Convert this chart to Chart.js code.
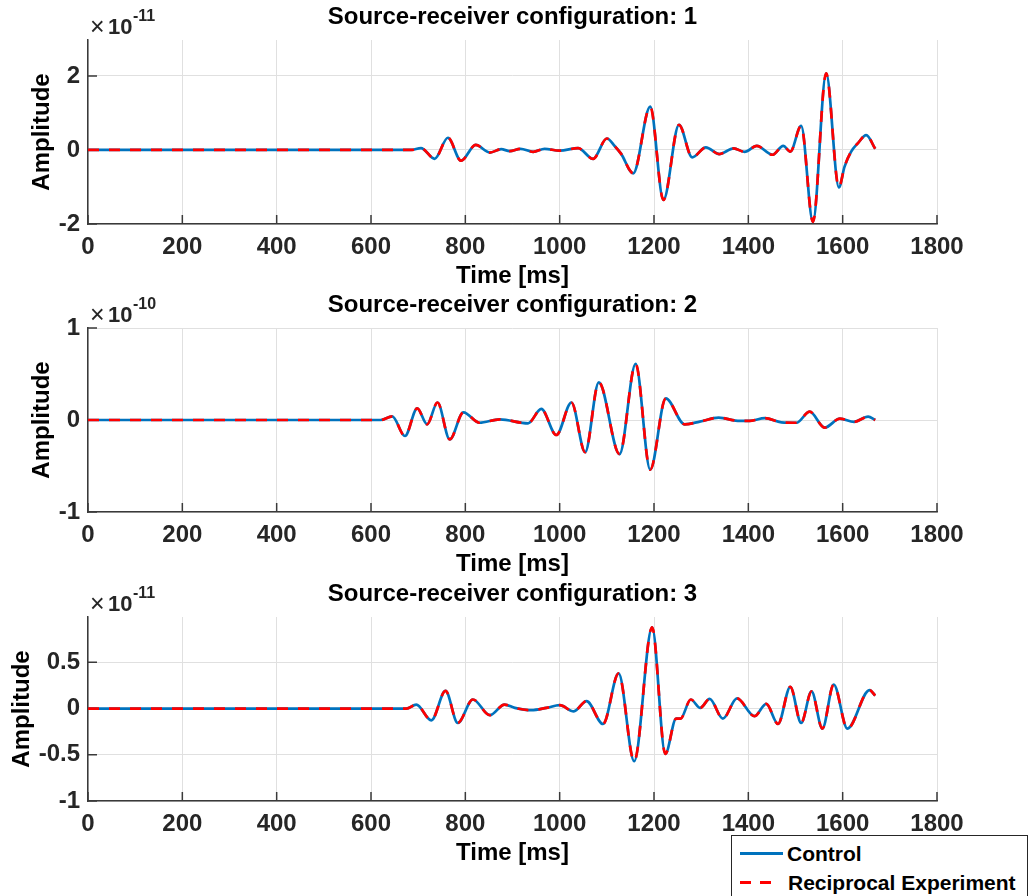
<!DOCTYPE html>
<html><head><meta charset="utf-8">
<script src="https://cdn.jsdelivr.net/npm/chart.js@4.4.1/dist/chart.umd.min.js"></script>
<style>
html,body{margin:0;padding:0;background:#fff;}
body{width:1034px;height:896px;position:relative;overflow:hidden;font-family:'Liberation Sans',Arial,sans-serif;}
canvas{position:absolute;left:0;}
#legend{position:absolute;left:731px;top:835px;width:295px;height:70px;border:1px solid #262626;background:#fff;}
#legend .txt{position:absolute;font-weight:bold;font-size:21px;line-height:24px;color:#000;white-space:nowrap;}
#legend .s1{position:absolute;left:8px;top:16px;width:43px;height:3px;background:#0072BD;}
#legend .s2{position:absolute;left:8px;top:45px;width:31px;height:3px;background:repeating-linear-gradient(to right,#FF0000 0 11px,transparent 11px 20px);}
</style>
</head>
<body>
<canvas id="c1" width="1034" height="288" style="top:0px"></canvas>
<canvas id="c2" width="1034" height="288" style="top:288px"></canvas>
<canvas id="c3" width="1034" height="288" style="top:577px"></canvas>
<div id="legend">
  <div class="s1"></div><div class="txt" style="left:55px;top:6px">Control</div>
  <div class="s2"></div><div class="txt" style="left:56px;top:35px">Reciprocal Experiment</div>
</div>
<script>
// ---------- data ----------
const xTicks = [0, 200, 400, 600, 800, 1000, 1200, 1400, 1600, 1800];
const xLabels = ['0', '200', '400', '600', '800', '1000', '1200', '1400', '1600', '1800'];

// configuration 1 (x 1e-11)
const time1 = [0, 685, 706, 735, 763, 791, 822, 852, 876, 894, 917, 944, 968, 1000, 1039, 1071, 1100, 1117, 1130, 1156, 1192, 1220, 1253, 1281, 1310, 1338, 1369, 1392, 1418, 1451, 1474, 1489, 1512, 1537, 1565, 1592, 1604, 1618, 1632, 1650, 1669];
const control1 = [0, 0, 0.05, -0.24, 0.33, -0.29, 0.135, -0.07, 0.02, -0.03, 0.03, -0.05, 0.03, -0.02, 0.05, -0.24, 0.31, 0.1, -0.1, -0.63, 1.17, -1.35, 0.68, -0.2, 0.07, -0.11, 0.04, -0.05, 0.11, -0.13, 0.11, -0.045, 0.65, -1.94, 2.07, -1.01, -0.45, -0.045, 0.18, 0.4, 0.03];
const reciprocal1 = [0, 0, 0.05, -0.24, 0.33, -0.29, 0.135, -0.07, 0.02, -0.03, 0.03, -0.05, 0.03, -0.02, 0.05, -0.24, 0.31, 0.1, -0.1, -0.63, 1.17, -1.35, 0.68, -0.2, 0.07, -0.11, 0.04, -0.05, 0.11, -0.13, 0.11, -0.045, 0.65, -1.94, 2.07, -1.01, -0.45, -0.045, 0.18, 0.4, 0.03];
const yTicks1 = [-2, 0, 2];
const yLabels1 = ['-2', '0', '2'];

// configuration 2 (x 1e-10)
const time2 = [0, 620, 645, 672, 698, 719, 741, 767, 796, 830, 873, 933, 961, 993, 1025, 1054, 1083, 1127, 1161, 1192, 1225, 1265, 1297, 1337, 1382, 1403, 1435, 1470, 1502, 1530, 1562, 1594, 1624, 1654, 1669];
const control2 = [0, 0, 0.04, -0.174, 0.127, -0.047, 0.19, -0.21, 0.083, -0.03, 0.007, -0.036, 0.12, -0.163, 0.19, -0.35, 0.41, -0.37, 0.61, -0.54, 0.235, -0.047, -0.018, 0.025, -0.01, -0.01, 0.02, -0.025, -0.03, 0.09, -0.083, 0.015, -0.02, 0.036, 0.0];
const reciprocal2 = [0, 0, 0.04, -0.174, 0.127, -0.047, 0.19, -0.21, 0.083, -0.03, 0.007, -0.036, 0.12, -0.163, 0.19, -0.35, 0.41, -0.37, 0.61, -0.54, 0.235, -0.047, -0.018, 0.025, -0.01, -0.01, 0.02, -0.025, -0.03, 0.09, -0.083, 0.015, -0.02, 0.036, 0.0];
const yTicks2 = [-1, 0, 1];
const yLabels2 = ['-1', '0', '1'];

// configuration 3 (x 1e-11)
const time3 = [0, 675, 696, 728, 758, 784, 816, 852, 883, 905, 940, 972, 1000, 1030, 1057, 1092, 1125, 1158, 1196, 1224, 1247, 1256, 1278, 1298, 1318, 1346, 1376, 1413, 1438, 1463, 1489, 1512, 1534, 1557, 1581, 1610, 1657, 1669];
const control3 = [0, 0, 0.043, -0.127, 0.19, -0.156, 0.098, -0.072, 0.043, 0.007, -0.018, 0.007, 0.036, -0.03, 0.08, -0.167, 0.38, -0.57, 0.877, -0.49, -0.11, -0.11, 0.098, 0.007, 0.105, -0.11, 0.11, -0.083, 0.05, -0.167, 0.235, -0.156, 0.185, -0.217, 0.26, -0.217, 0.2, 0.14];
const reciprocal3 = [0, 0, 0.043, -0.127, 0.19, -0.156, 0.098, -0.072, 0.043, 0.007, -0.018, 0.007, 0.036, -0.03, 0.08, -0.167, 0.38, -0.57, 0.877, -0.49, -0.11, -0.11, 0.098, 0.007, 0.105, -0.11, 0.11, -0.083, 0.05, -0.167, 0.235, -0.156, 0.185, -0.217, 0.26, -0.217, 0.2, 0.14];
const yTicks3 = [-1, -0.5, 0, 0.5];
const yLabels3 = ['-1', '-0.5', '0', '0.5'];

// ---------- rendering ----------
const FONT = "'Liberation Sans', Arial, sans-serif";
const AXIS_COLOR = '#3a3a3a';
const GRID_COLOR = '#e0e0e0';

const inwardTicks = {
  id: 'inwardTicks',
  beforeDatasetsDraw(chart) {
    const ctx = chart.ctx, a = chart.chartArea;
    const xs = chart.scales.x, ys = chart.scales.y;
    ctx.save();
    ctx.strokeStyle = AXIS_COLOR;
    ctx.lineWidth = 1.5;
    ctx.beginPath();
    xs.ticks.forEach(t => {
      const px = xs.getPixelForValue(t.value);
      ctx.moveTo(px, a.bottom); ctx.lineTo(px, a.bottom - 9);
    });
    ys.ticks.forEach(t => {
      const py = ys.getPixelForValue(t.value);
      ctx.moveTo(a.left, py); ctx.lineTo(a.left + 9, py);
    });
    ctx.stroke();
    ctx.restore();
  }
};

// axes title (centred over the plot area) and the ×10^n exponent label
const panelTexts = {
  id: 'panelTexts',
  afterDraw(chart, args, opts) {
    const ctx = chart.ctx, a = chart.chartArea;
    ctx.save();
    ctx.fillStyle = '#000';
    ctx.textAlign = 'center';
    ctx.textBaseline = 'middle';
    ctx.font = 'bold 24px ' + FONT;
    ctx.fillText(opts.title, (a.left + a.right) / 2, 17);
    const x0 = a.left + 2;
    ctx.fillStyle = '#262626';
    ctx.textBaseline = 'alphabetic';
    ctx.textAlign = 'left';
    ctx.font = '25px ' + FONT;
    ctx.fillText('\u00D7', x0, a.top - 5);
    ctx.font = 'bold 22px ' + FONT;
    ctx.fillText('10', x0 + 18, a.top - 6);
    ctx.font = 'bold 16px ' + FONT;
    ctx.fillText(opts.exp, x0 + 43, a.top - 19);
    ctx.restore();
  }
};

function makePanel(id, title, times, ctrl, recip, yMin, yMax, yTicks, yLabels, exp, yTitlePad) {
  const dCtrl = times.map((t, i) => ({ x: t, y: ctrl[i] }));
  const dRecip = times.map((t, i) => ({ x: t, y: recip[i] }));
  return new Chart(document.getElementById(id), {
    type: 'line',
    data: {
      datasets: [
        { label: 'Control', order: 2, data: dCtrl, borderColor: '#0072BD', borderWidth: 2.7, pointRadius: 0, cubicInterpolationMode: 'monotone', fill: false },
        { label: 'Reciprocal Experiment', order: 1, data: dRecip, borderColor: '#FF0000', borderWidth: 2.7, borderDash: [11, 10], pointRadius: 0, cubicInterpolationMode: 'monotone', fill: false }
      ]
    },
    options: {
      responsive: false,
      animation: false,
      devicePixelRatio: 1,
      layout: { padding: { left: 0, right: 97, top: 40, bottom: 0 } },
      plugins: {
        legend: { display: false },
        tooltip: { enabled: false },
        title: { display: false },
        panelTexts: { title: title, exp: exp }
      },
      scales: {
        x: {
          type: 'linear', min: 0, max: 1800,
          afterBuildTicks: s => { s.ticks = xTicks.map(v => ({ value: v })); },
          afterFit: s => { s.height = 64; },
          grid: { color: GRID_COLOR, lineWidth: 1, drawTicks: false },
          border: { display: true, color: AXIS_COLOR, width: 1.5 },
          ticks: {
            color: '#262626', padding: 9, maxRotation: 0, autoSkip: false,
            font: { family: FONT, size: 24, weight: 'bold', lineHeight: 1.2 },
            callback: (v) => { const i = xTicks.indexOf(v); return i >= 0 ? xLabels[i] : ''; }
          },
          title: { display: true, text: 'Time [ms]', color: '#000', padding: { top: 0, bottom: 0 }, font: { family: FONT, size: 24, weight: 'bold', lineHeight: 1 } }
        },
        y: {
          type: 'linear', min: yMin, max: yMax,
          afterBuildTicks: s => { s.ticks = yTicks.map(v => ({ value: v })); },
          afterFit: s => { s.width = 88; },
          grid: { color: GRID_COLOR, lineWidth: 1, drawTicks: false },
          border: { display: true, color: AXIS_COLOR, width: 1.5 },
          ticks: {
            color: '#262626', padding: 8, autoSkip: false,
            font: { family: FONT, size: 24, weight: 'bold' },
            callback: (v) => { const i = yTicks.indexOf(v); return i >= 0 ? yLabels[i] : ''; }
          },
          title: { display: true, text: 'Amplitude', color: '#000', padding: { top: yTitlePad, bottom: 0 }, font: { family: FONT, size: 24, weight: 'bold', lineHeight: 1.2 } }
        }
      }
    },
    plugins: [inwardTicks, panelTexts]
  });
}

makePanel('c1', 'Source-receiver configuration: 1', time1, control1, reciprocal1, -2, 2.97, yTicks1, yLabels1, '-11', 28);
makePanel('c2', 'Source-receiver configuration: 2', time2, control2, reciprocal2, -1, 1, yTicks2, yLabels2, '-10', 28);
makePanel('c3', 'Source-receiver configuration: 3', time3, control3, reciprocal3, -1, 0.99, yTicks3, yLabels3, '-11', 8);
</script>
</body></html>
